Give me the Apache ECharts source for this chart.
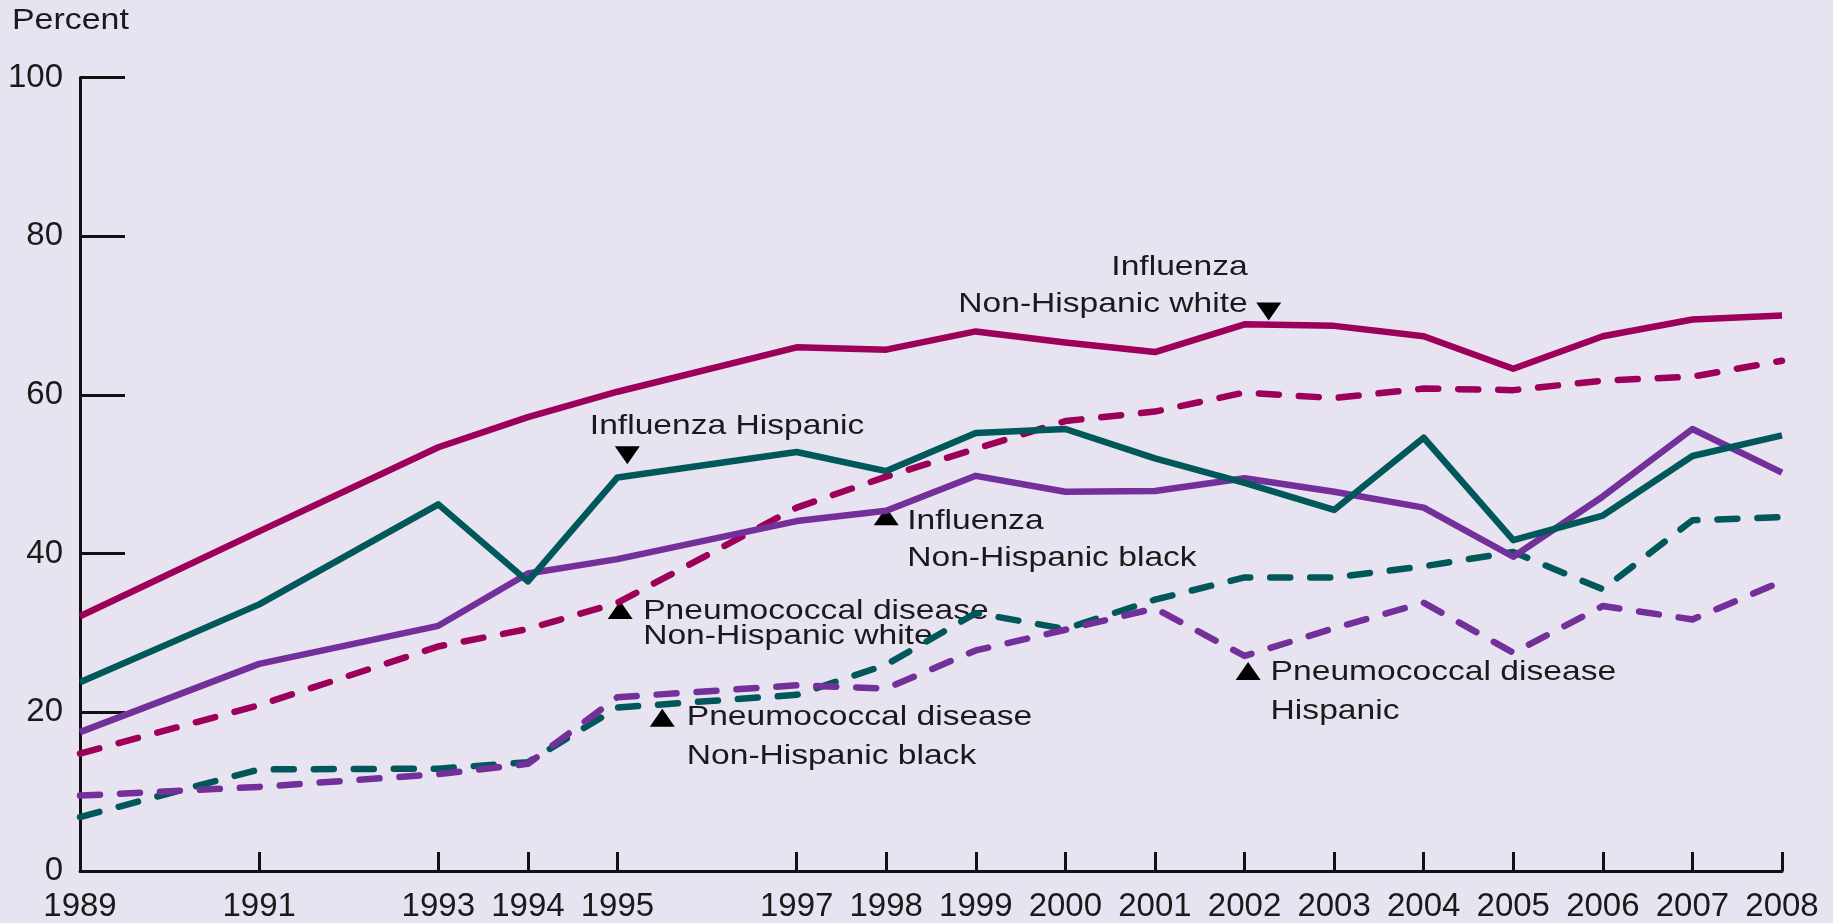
<!DOCTYPE html>
<html>
<head>
<meta charset="utf-8">
<script src="https://cdn.jsdelivr.net/npm/echarts@6/dist/echarts.min.js"></script>
<style>
html,body{margin:0;padding:0;background:#e8e3f0;}
#chart{width:1833px;height:923px;}
</style>
</head>
<body>
<div id="chart"></div>
<script>
// ---- data ----
const years = [1989,1991,1993,1994,1995,1997,1998,1999,2000,2001,2002,2003,2004,2005,2006,2007,2008];
const tickYears = [1989,1991,1993,1994,1995,1997,1998,1999,2000,2001,2002,2003,2004,2005,2006,2007,2008];
const yTicks = [0,20,40,60,80,100];
const fluWhite     = [32.1,42.8,53.4,57.2,60.4,66.0,65.7,68.0,66.6,65.4,68.9,68.7,67.4,63.3,67.4,69.5,70.0];
const fluHispanic  = [23.8,33.6,46.2,36.5,49.6,52.8,50.4,55.2,55.7,52.0,48.9,45.5,54.6,41.7,44.8,52.3,54.9];
const fluBlack     = [17.5,26.1,30.9,37.5,39.3,44.1,45.4,49.8,47.8,47.9,49.5,47.8,45.8,39.6,47.2,55.7,50.2];
const pneuWhite    = [14.8,20.9,28.3,30.5,33.8,45.8,49.7,53.2,56.7,57.9,60.3,59.6,60.8,60.6,61.8,62.3,64.3];
const pneuHispanic = [9.5,10.6,12.2,13.5,21.9,23.4,23.0,27.8,30.4,33.1,27.1,30.6,33.8,27.5,33.4,31.7,36.5];
const pneuBlack    = [6.8,12.8,12.9,13.7,20.6,22.2,26.0,32.5,30.5,34.2,37.0,37.0,38.4,40.2,35.5,44.2,44.6];

// annotation anchors in data space [year, percent]
const annYears  = [2002.27, 1995.11, 1998.0, 1995.03, 1995.5, 2002.04];
const annValues = [70.5, 52.4, 44.7, 32.9, 19.3, 25.2];
const annLines  = [
  ['Influenza','Non-Hispanic white'],
  ['Influenza Hispanic'],
  ['Influenza','Non-Hispanic black'],
  ['Pneumococcal disease','Non-Hispanic white'],
  ['Pneumococcal disease','Non-Hispanic black'],
  ['Pneumococcal disease','Hispanic']
];
</script>
<script>
const MAGENTA = '#9c0058', TEAL = '#00585b', PURPLE = '#73309a';
const FONT = '"Liberation Sans", Arial, sans-serif';
const pairs = v => years.map((y,i)=>[y,v[i]]);
const mk = (name, data, color, dashed) => ({
  name, type:'line', data:pairs(data), symbol:'none', silent:true,
  lineStyle:{color, width:6.5, type: dashed ? [20,20] : 'solid', cap: dashed ? 'round':'butt', join:'round'}
});

const chart = echarts.init(document.getElementById('chart'), null, {renderer:'canvas'});
chart.setOption({
  backgroundColor:'#e8e3f0',
  animation:false,
  grid:{left:80, right:51, top:77.5, bottom:51, containLabel:false},
  xAxis:{
    type:'value', min:1989, max:2008,
    axisLine:{lineStyle:{color:'#111', width:3}},
    axisTick:{show:true, inside:true, length:19, lineStyle:{color:'#111', width:3}, customValues:tickYears},
    axisLabel:{color:'#1a1a1a', fontSize:33, fontFamily:FONT, margin:19, customValues:tickYears, formatter:v=>String(v)},
    splitLine:{show:false}
  },
  yAxis:{
    type:'value', min:0, max:100, interval:20,
    axisLine:{show:true, lineStyle:{color:'#111', width:3}},
    axisTick:{show:true, inside:true, length:45, lineStyle:{color:'#111', width:3}, customValues:yTicks},
    axisLabel:{color:'#1a1a1a', fontSize:33, fontFamily:FONT, margin:17, padding:[0,0,16,0], customValues:yTicks},
    splitLine:{show:false}
  },
  series:[
    mk('Pneumococcal disease Non-Hispanic black', pneuBlack, TEAL, true),
    mk('Pneumococcal disease Hispanic', pneuHispanic, PURPLE, true),
    mk('Pneumococcal disease Non-Hispanic white', pneuWhite, MAGENTA, true),
    mk('Influenza Non-Hispanic black', fluBlack, PURPLE, false),
    mk('Influenza Hispanic', fluHispanic, TEAL, false),
    mk('Influenza Non-Hispanic white', fluWhite, MAGENTA, false)
  ]
});

// annotation layout (pixel offsets relative to the triangle marker)
const annStyle = [
  {dir:'down', align:'right', dx:-21,  dy:[-44,-7]},
  {dir:'down', align:'left',  dx:-37.5,dy:[-29]},
  {dir:'up',   align:'left',  dx:21,   dy:[5,42]},
  {dir:'up',   align:'left',  dx:23,   dy:[1,26]},
  {dir:'up',   align:'left',  dx:24.5, dy:[-1,38]},
  {dir:'up',   align:'left',  dx:22.5, dy:[1,40]}
];
const graphics = [{
  type:'text', x:12, y:21, scaleX:1.13,
  style:{text:'Percent', x:0, y:0, fill:'#1a1a1a', fontSize:30, fontFamily:FONT, align:'left', verticalAlign:'middle'}
}];
annYears.forEach((yr,i)=>{
  const p = chart.convertToPixel({gridIndex:0}, [yr, annValues[i]]);
  const s = annStyle[i];
  const tri = s.dir==='up' ? [[-12.5,9],[12.5,9],[0,-9]] : [[-12.5,-9],[12.5,-9],[0,9]];
  graphics.push({type:'polygon', x:p[0], y:p[1], shape:{points:tri}, style:{fill:'#000'}});
  annLines[i].forEach((t,j)=>{
    graphics.push({
      type:'text', x:p[0]+s.dx, y:p[1]+s.dy[j], scaleX:1.2,
      style:{text:t, x:0, y:0, fill:'#1a1a1a', fontSize:28, fontFamily:FONT, align:s.align, verticalAlign:'middle'}
    });
  });
});
chart.setOption({graphic:graphics});
</script>
</body>
</html>
